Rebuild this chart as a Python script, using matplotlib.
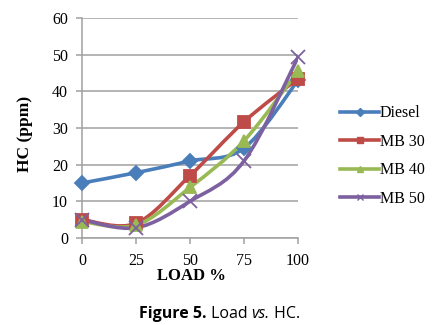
import numpy as np
import matplotlib
matplotlib.use("Agg")
import matplotlib.pyplot as plt
from matplotlib.path import Path
from matplotlib.patches import PathPatch
from matplotlib.lines import Line2D

# data
load = [0, 25, 50, 75, 100]
diesel = [15, 17.8, 21, 24.5, 43]
mb30 = [5, 4, 17, 31.7, 43.5]
mb40 = [4.5, 3.5, 13.8, 26.5, 45.5]
mb50 = [5, 2.8, 10, 21, 49.3]

series = ["Diesel", "MB 30", "MB 40", "MB 50"]
values = [diesel, mb30, mb40, mb50]
colors = ["#4a7ebb", "#be4b48", "#98b954", "#7d60a0"]
markers = ["D", "s", "^", "x"]
msizes = [7, 9, 9, 10]

serif = "Liberation Serif"


def smooth_path(x, y):
    # excel-style smoothed line: cubic bezier through the points
    p = np.column_stack([x, y]).astype(float)
    n = len(p)
    verts = [p[0]]
    codes = [Path.MOVETO]
    for i in range(n - 1):
        p0 = p[i - 1] if i > 0 else p[i]
        p1, p2 = p[i], p[i + 1]
        p3 = p[i + 2] if i + 2 < n else p[i + 1]
        c1 = p1 + (p2 - p0) / 6.0
        c2 = p2 - (p3 - p1) / 6.0
        verts += [c1, c2, p2]
        codes += [Path.CURVE4] * 3
    return Path(verts, codes)


fig = plt.figure(figsize=(4.4, 3.25), dpi=100)
ax = fig.add_axes([82 / 440, 1 - 238 / 325, 216 / 440, 220 / 325])

for name, v, c, m, ms in zip(series, values, colors, markers, msizes):
    ax.add_patch(PathPatch(smooth_path(load, v), fill=False, edgecolor=c,
                           lw=2.6, capstyle="round", joinstyle="round", zorder=3))
    ax.plot(load, v, ls="none", marker=m, ms=ms, color=c, mec=c, mew=1.3,
            clip_on=False, zorder=4)

ax.set_xlim(0, 100)
ax.set_ylim(0, 60)
ax.set_xticks(load)
ax.set_yticks(range(0, 61, 10))
ax.grid(axis="y", color="#a0a0a0", lw=1.1)
ax.set_axisbelow(True)
for s in ["top", "right"]:
    ax.spines[s].set_visible(False)
for s in ["left", "bottom"]:
    ax.spines[s].set_color("#a0a0a0")
    ax.spines[s].set_linewidth(1.1)
ax.tick_params(colors="#a0a0a0", labelcolor="black", length=4, width=1.1,
               labelsize=11.5)
ax.tick_params(axis="y", pad=6)
ax.tick_params(axis="x", pad=7)
for lab in ax.get_xticklabels() + ax.get_yticklabels():
    lab.set_fontfamily(serif)

fig.text(191 / 440, 1 - 276 / 325, "LOAD %", family=serif, weight="bold",
         size=12, ha="center", va="center")
fig.text(25 / 440, 1 - 134 / 325, "HC (ppm)", family=serif, weight="bold",
         size=12.5, ha="center", va="center", rotation=90)

handles = [Line2D([], [], color=c, lw=2.6, marker=m, ms=4, mew=1)
           for c, m in zip(colors, markers)]
fig.legend(handles, series, loc="upper left",
           bbox_to_anchor=(334 / 440, 1 - 99 / 325), frameon=False,
           prop={"family": serif, "size": 11.5}, handlelength=2.4,
           handletextpad=0.05, labelspacing=0.78, borderaxespad=0)

# caption below the chart
cap_y = 1 - 314 / 325
cap_kw = dict(family="Open Sans", size=11.5, va="center", ha="left")
fig.canvas.draw()
r = fig.canvas.get_renderer()
parts = [("Figure 5.", "bold", "normal"), (" Load ", "normal", "normal"),
         ("vs.", "normal", "italic"), (" HC.", "normal", "normal")]
x = 139 / 440
for txt, w, st in parts:
    t = fig.text(x, cap_y, txt, weight=w, style=st, **cap_kw)
    bb = t.get_window_extent(renderer=r)
    x += bb.width / fig.bbox.width

fig.savefig("out.png", dpi=100)
